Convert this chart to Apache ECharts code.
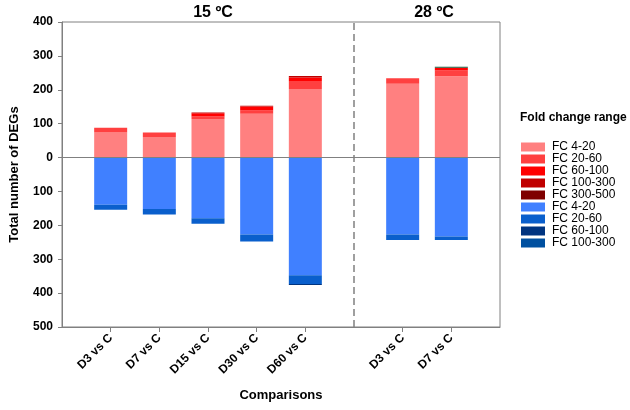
<!DOCTYPE html>
<html>
<head>
<meta charset="utf-8">
<script src="https://cdn.jsdelivr.net/npm/echarts@6/dist/echarts.min.js"></script>
<style>
  html, body { margin: 0; padding: 0; background: #fff; }
  #chart { width: 630px; height: 410px; }
</style>
</head>
<body>
<div id="chart"></div>
<script>
// category slots: empty slots pad the edges and mark the gap between temperatures
const categories = ['', 'D3 vs C', 'D7 vs C', 'D15 vs C', 'D30 vs C', 'D60 vs C', '', 'D3 vs C', 'D7 vs C', '']

const upLabels = ['FC 4-20', 'FC 20-60', 'FC 60-100', 'FC 100-300', 'FC 300-500']
const up4_20 = [null, 74, 61, 114, 129, 202, null, 218, 240, null]
const up20_60 = [null, 14, 13, 7, 10, 24, null, 16, 17, null]
const up60_100 = [null, 0, 0, 10, 12, 10, null, 0, 8, null]
const up100_300 = [null, 0, 0, 2, 2, 5, null, 0, 0, null]
const up300_500 = [null, 0, 0, 0, 0, 0, null, 0, 3, null]

const downLabels = ['FC 4-20', 'FC 20-60', 'FC 60-100', 'FC 100-300']
const down4_20 = [null, -139, -152, -179, -227, -347, null, -227, -233, null]
const down20_60 = [null, -15, -16, -16, -21, -26, null, -16, -10, null]
const down60_100 = [null, 0, 0, 0, 0, -3, null, 0, 0, null]
const down100_300 = [null, 0, 0, 0, 0, 0, null, 0, 0, null]

const yTicks = [-500, 400] // min, max

const upColors = ['#ff8080', '#ff4040', '#ff0000', '#c00000', '#7f0000']
const downColors = ['#4080ff', '#0a5fcc', '#003480', '#0050a0']

const font = 'Arial, "Liberation Sans", sans-serif'
const chart = echarts.init(document.getElementById('chart'))

const upData = [up4_20, up20_60, up60_100, up100_300, up300_500]
const downData = [down4_20, down20_60, down60_100, down100_300]

// one stack: positives pile up, negatives pile down (samesign)
const series = []
upData.forEach(function (arr, i) {
  series.push({
    name: 'up ' + upLabels[i],
    type: 'bar',
    stack: 'all',
    stackStrategy: 'samesign',
    barWidth: 33,
    itemStyle: { color: upColors[i] },
    // thin top band of D7 (28 ºC) shows dark green in the original
    data: arr.map(function (v, k) {
      if (i === 4 && k === 8) return { value: v, itemStyle: { color: '#1d5a3c' } }
      return v
    })
  })
})
downData.forEach(function (arr, i) {
  series.push({
    name: 'down ' + downLabels[i],
    type: 'bar',
    stack: 'all',
    stackStrategy: 'samesign',
    barWidth: 33,
    itemStyle: { color: downColors[i] },
    data: arr
  })
})

// zero line and the dashed separator between 15 ºC and 28 ºC
series[0].markLine = {
  silent: true,
  symbol: 'none',
  label: { show: false },
  data: [
    { yAxis: 0, lineStyle: { color: '#808080', type: 'solid', width: 1 } },
    { xAxis: 6, lineStyle: { color: '#808080', type: [7, 4], width: 1.5 } }
  ]
}

const option = {
  animation: false,
  textStyle: { fontFamily: font },
  title: [
    { text: '15 ºC', left: 208, top: 0, textAlign: 'center',
      textStyle: { fontSize: 16, fontWeight: 'bold', color: '#000', fontFamily: font } },
    { text: '28 ºC', left: 429, top: 0, textAlign: 'center',
      textStyle: { fontSize: 16, fontWeight: 'bold', color: '#000', fontFamily: font } },
    { text: 'Fold change range', left: 520, top: 112, padding: 0,
      textStyle: { fontSize: 12, fontWeight: 'bold', color: '#000', fontFamily: font } }
  ],
  legend: {
    orient: 'vertical',
    left: 516,
    top: 136,
    itemWidth: 24,
    itemHeight: 9,
    itemGap: 0,
    icon: 'rect',
    selectedMode: false,
    data: series.map(function (s) { return s.name }),
    formatter: function (name) { return name.replace(/^(up|down) /, '') },
    textStyle: { fontSize: 12, lineHeight: 12, color: '#000', fontFamily: font, padding: [0, 0, 0, 2] }
  },
  grid: {
    left: 62, right: 130, top: 22, bottom: 83,
    show: true, borderColor: '#808080', borderWidth: 1, backgroundColor: 'transparent'
  },
  xAxis: {
    type: 'category',
    data: categories,
    boundaryGap: false,
    name: 'Comparisons',
    nameLocation: 'middle',
    nameGap: 62,
    nameTextStyle: { fontSize: 13, fontWeight: 'bold', color: '#000', fontFamily: font },
    axisLine: { onZero: false, lineStyle: { color: '#808080' } },
    axisTick: {
      length: 5,
      lineStyle: { color: '#808080' },
      interval: function (i, v) { return v !== '' }
    },
    axisLabel: {
      interval: 0,
      rotate: 45,
      margin: 9,
      fontSize: 12,
      fontWeight: 'bold',
      color: '#000',
      fontFamily: font
    },
    splitLine: { show: false }
  },
  yAxis: {
    type: 'value',
    min: yTicks[0],
    max: yTicks[1],
    interval: 100,
    name: 'Total number of DEGs',
    nameLocation: 'middle',
    nameGap: 41,
    nameTextStyle: { fontSize: 13, fontWeight: 'bold', color: '#000', fontFamily: font },
    axisLine: { show: true, lineStyle: { color: '#808080' } },
    axisTick: { show: true, length: 4, lineStyle: { color: '#808080' } },
    axisLabel: {
      margin: 9,
      fontSize: 12,
      fontWeight: 'bold',
      color: '#000',
      fontFamily: font,
      formatter: function (v) { return Math.abs(v) }
    },
    splitLine: { show: false }
  },
  series: series
}

chart.setOption(option)
</script>
</body>
</html>
